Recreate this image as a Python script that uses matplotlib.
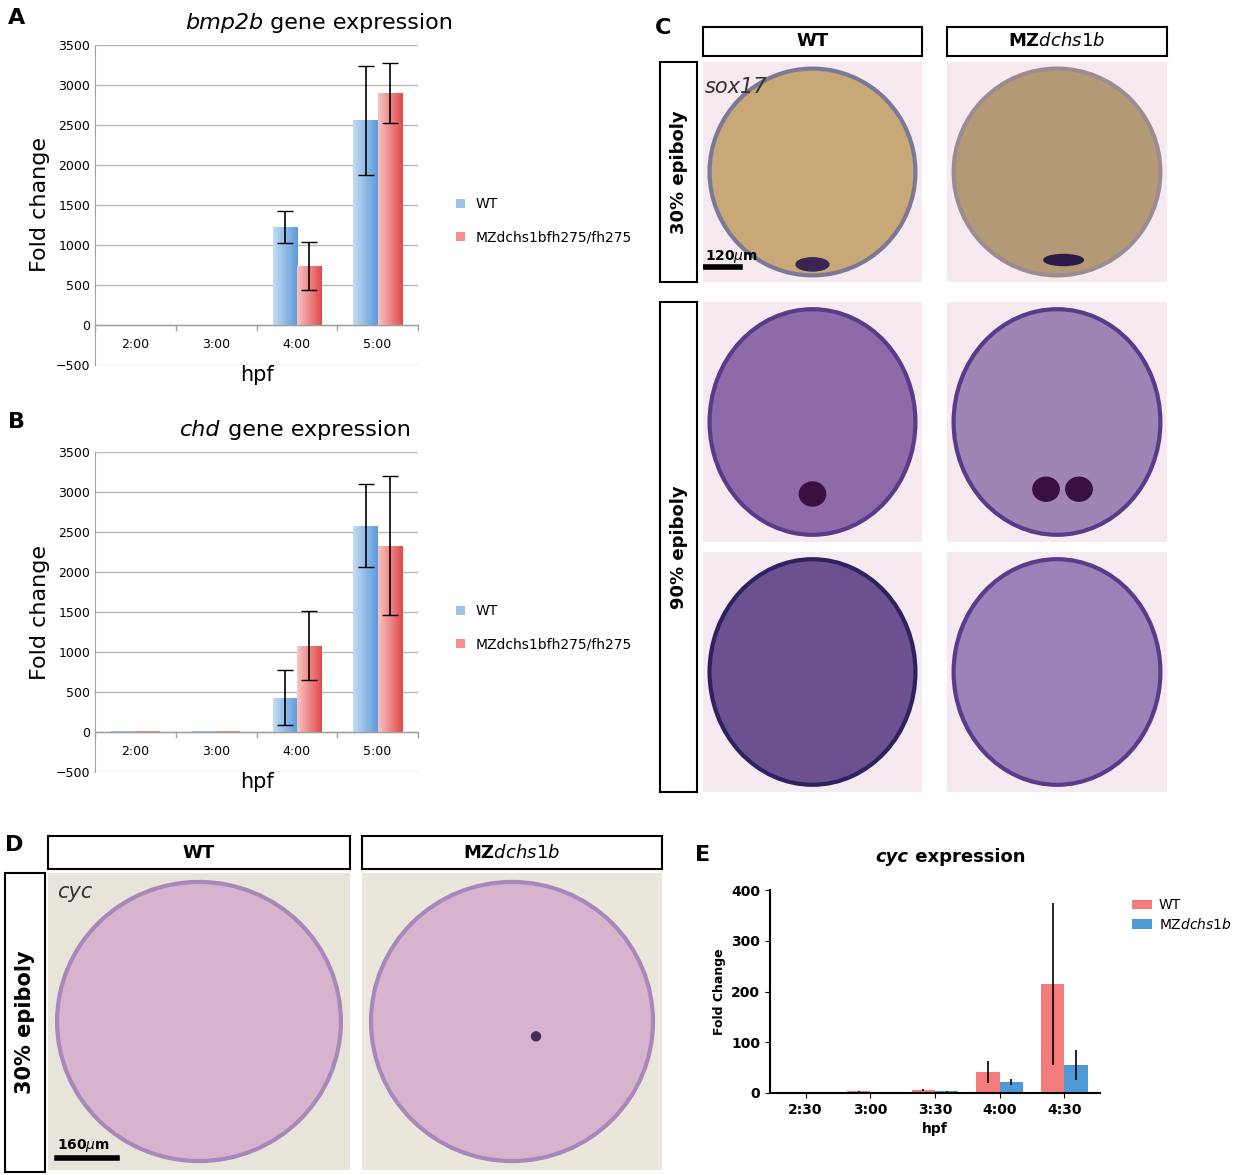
import numpy as np
import matplotlib.pyplot as plt
from matplotlib.patches import Ellipse, Rectangle
from matplotlib.colors import LinearSegmentedColormap

W, H = 1254, 1175

hpf_ab = ["2:00", "3:00", "4:00", "5:00"]
bmp_wt = [5, 5, 1220, 2560]
bmp_wt_err = [0, 0, 200, 680]
bmp_mz = [5, 5, 740, 2900]
bmp_mz_err = [0, 0, 300, 370]
chd_wt = [10, 10, 430, 2580]
chd_wt_err = [0, 0, 340, 520]
chd_mz = [10, 10, 1080, 2330]
chd_mz_err = [0, 0, 430, 870]

hpf_e = ["2:30", "3:00", "3:30", "4:00", "4:30"]
cyc_wt = [1, 3, 5, 42, 215]
cyc_wt_err = [0, 1, 2, 22, 160]
cyc_mz = [1, 1, 3, 22, 55]
cyc_mz_err = [0, 0, 1, 6, 30]

fig = plt.figure(figsize=(W / 100, H / 100), dpi=100)
plt.rcParams["font.family"] = "DejaVu Sans"


def px_axes(x0, y0, x1, y1, **kw):
    return fig.add_axes([x0 / W, 1 - y1 / H, (x1 - x0) / W, (y1 - y0) / H], **kw)


def gradient_bars(ax, bars, light, dark):
    cmap = LinearSegmentedColormap.from_list("g", [light, dark])
    grad = np.linspace(0, 1, 64).reshape(1, -1)
    for b in bars:
        x, y = b.get_x(), b.get_y()
        w, h = b.get_width(), b.get_height()
        if h < 30:
            continue
        im = ax.imshow(grad, cmap=cmap, aspect="auto", extent=(x, x + w, y, y + h), zorder=2)
        im.set_clip_path(b)


def expr_panel(ax, wt, wte, mz, mze, gene, split):
    x = np.arange(len(hpf_ab))
    w = 0.3
    b1 = ax.bar(x - w / 2, wt, w, color="#9cc2ea", zorder=2, label="WT")
    b2 = ax.bar(x + w / 2, mz, w, color="#f08f8f", zorder=2, label="MZdchs1bfh275/fh275")
    gradient_bars(ax, b1, "#c3dbf3", "#5d9bdb")
    gradient_bars(ax, b2, "#f7c4c4", "#e24a4a")
    for xi, v, e in zip(x - w / 2, wt, wte):
        if e:
            ax.errorbar(xi, v, yerr=e, color="black", capsize=6, lw=1.2, zorder=3)
    for xi, v, e in zip(x + w / 2, mz, mze):
        if e:
            ax.errorbar(xi, v, yerr=e, color="black", capsize=6, lw=1.2, zorder=3)
    ax.set_xlim(-0.5, 3.5)
    ax.set_ylim(-500, 3500)
    ax.set_yticks(range(-500, 3501, 500))
    ax.set_xticks(x)
    ax.set_xticklabels(hpf_ab)
    ax.tick_params(labelsize=9, length=0)
    ax.grid(axis="y", color="#b8b8b8", lw=1)
    ax.set_axisbelow(True)
    ax.axhline(0, color="#a0a0a0", lw=1)
    for s in ["top", "right", "bottom"]:
        ax.spines[s].set_visible(False)
    ax.spines["left"].set_color("#a0a0a0")
    for xx in [-0.5, 0.5, 1.5, 2.5, 3.5]:
        ax.plot([xx, xx], [0, -60], color="#a0a0a0", lw=1, clip_on=False)
    for lab in ax.get_xticklabels():
        lab.set_y(0.1)
    ax.set_xlabel("hpf", fontsize=15, labelpad=0)
    ax.set_ylabel("Fold change", fontsize=16)
    ax.text(split, 1.05, gene, style="italic", fontsize=16, ha="right", transform=ax.transAxes)
    ax.text(split, 1.05, " gene expression", fontsize=16, ha="left", transform=ax.transAxes)
    ax.legend(loc="center left", bbox_to_anchor=(1.08, 0.45), frameon=False,
              fontsize=10, handlelength=0.6, handleheight=0.6, labelspacing=1.4)


axA = px_axes(95, 45, 418, 365)
expr_panel(axA, bmp_wt, bmp_wt_err, bmp_mz, bmp_mz_err, "bmp2b", 0.52)
axB = px_axes(95, 452, 418, 772)
expr_panel(axB, chd_wt, chd_wt_err, chd_mz, chd_mz_err, "chd", 0.39)

# E
axE = px_axes(770, 890, 1100, 1093)
x = np.arange(len(hpf_e))
w = 0.36
axE.bar(x - w / 2, cyc_wt, w, color="#f47b7b", yerr=cyc_wt_err, capsize=0,
        error_kw=dict(lw=1.2), label="WT")
axE.bar(x + w / 2, cyc_mz, w, color="#4e9ad6", yerr=cyc_mz_err, capsize=0,
        error_kw=dict(lw=1.2), label=r"MZ$\it{dchs1b}$")
axE.set_xlim(-0.55, 4.55)
axE.set_ylim(0, 400)
axE.set_yticks(range(0, 401, 100))
axE.set_xticks(x)
axE.set_xticklabels(hpf_e, fontweight="bold", fontsize=10)
for lab in axE.get_yticklabels():
    lab.set_fontweight("bold")
axE.tick_params(labelsize=10)
for s in ["top", "right"]:
    axE.spines[s].set_visible(False)
axE.spines["left"].set_linewidth(1.5)
axE.spines["bottom"].set_linewidth(1.5)
axE.set_xlabel("hpf", fontweight="bold", fontsize=10)
axE.set_ylabel("Fold Change", fontweight="bold", fontsize=9)
axE.text(0.42, 1.14, "cyc", style="italic", fontweight="bold", fontsize=13, ha="right",
         transform=axE.transAxes)
axE.text(0.42, 1.14, " expression", fontweight="bold", fontsize=13, ha="left",
         transform=axE.transAxes)
axE.legend(loc="upper left", bbox_to_anchor=(1.06, 1.02), frameon=False, fontsize=10,
           handlelength=1.4, labelspacing=0.3, handletextpad=0.5)


def embryo(x0, y0, x1, y1, bg, fill, edge, extra=None):
    ax = px_axes(x0, y0, x1, y1)
    ax.set_xlim(0, 1)
    ax.set_ylim(0, 1)
    ax.axis("off")
    ax.add_patch(Rectangle((0, 0), 1, 1, color=bg))
    ax.add_patch(Ellipse((0.5, 0.5), 0.94, 0.94, facecolor=fill, edgecolor=edge, lw=3))
    if extra:
        extra(ax)
    return ax


def box(x0, y0, x1, y1, text, rot=0, size=13):
    ax = px_axes(x0, y0, x1, y1)
    ax.set_xticks([])
    ax.set_yticks([])
    for s in ax.spines.values():
        s.set_linewidth(1.5)
    ax.text(0.5, 0.5, text, rotation=rot, ha="center", va="center", fontsize=size,
            fontweight="bold", transform=ax.transAxes)


# C
box(703, 27, 922, 56, "WT")
box(947, 27, 1167, 56, r"MZ$\bf{\it{dchs1b}}$")
box(660, 62, 697, 282, "30% epiboly", rot=90)
box(660, 302, 697, 792, "90% epiboly", rot=90)


def spot(ax):
    ax.add_patch(Ellipse((0.5, 0.08), 0.15, 0.06, color="#3a2555"))


a = embryo(703, 62, 922, 282, "#f6eaf0", "#c9a878", "#7a7a98", spot)
a.text(0.01, 0.93, "sox17", style="italic", fontsize=15, color="#333333", va="top")
a.plot([0.01, 0.17], [0.07, 0.07], color="black", lw=4)
a.text(0.01, 0.1, r"120$\mu$m", fontsize=10, fontweight="bold")
embryo(947, 62, 1167, 282, "#f6eaf0", "#b49a74", "#9a8c90",
       lambda ax: ax.add_patch(Ellipse((0.53, 0.1), 0.18, 0.05, color="#2a1a45")))


def dots(ax, cx, cy):
    ax.add_patch(Ellipse((cx, cy), 0.12, 0.1, color="#3a1040"))


embryo(703, 302, 922, 542, "#f6eaf0", "#8e6aa8", "#5a3a8a", lambda ax: dots(ax, 0.5, 0.2))
embryo(947, 302, 1167, 542, "#f6eaf0", "#9f85b5", "#5a3a8a",
       lambda ax: (dots(ax, 0.45, 0.22), dots(ax, 0.6, 0.22)))
embryo(703, 552, 922, 792, "#f6eaf0", "#6c5090", "#2f2060")
embryo(947, 552, 1167, 792, "#f6eaf0", "#9c80b8", "#5a3a8a")

# D
box(48, 836, 350, 869, "WT")
box(362, 836, 662, 869, r"MZ$\bf{\it{dchs1b}}$")
box(5, 873, 45, 1172, "30% epiboly", rot=90, size=15)
d = embryo(48, 873, 350, 1170, "#e9e4da", "#d8b3cd", "#a888bb")
d.text(0.03, 0.97, "cyc", style="italic", fontsize=15, color="#333333", va="top")
d.plot([0.03, 0.23], [0.04, 0.04], color="black", lw=4)
d.text(0.03, 0.07, r"160$\mu$m", fontsize=10, fontweight="bold")
embryo(362, 873, 662, 1170, "#ebe6dc", "#d8b3cd", "#a888bb",
       lambda ax: ax.add_patch(Ellipse((0.58, 0.45), 0.03, 0.03, color="#4a2a60")))

# panel letters
for lx, ly, L in [(8, 18, "A"), (8, 422, "B"), (655, 28, "C"), (5, 845, "D"), (695, 855, "E")]:
    fig.text(lx / W, 1 - ly / H, L, fontsize=16, fontweight="bold", va="center")

fig.savefig("out.png", dpi=100)
